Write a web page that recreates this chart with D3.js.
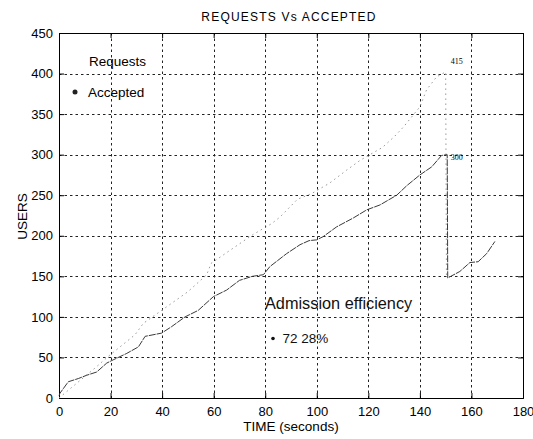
<!DOCTYPE html>
<html>
<head>
<meta charset="utf-8">
<script src="https://cdn.jsdelivr.net/npm/d3@7"></script>
<style>
    body { margin: 0; background: #fff; }
    svg { display: block; font-family: "Liberation Sans", Arial, sans-serif; }
</style>
</head>
<body>
<div id="chart"></div>
<script>
// values
const xTicks = [0, 20, 40, 60, 80, 100, 120, 140, 160, 180];
const yTicks = [0, 50, 100, 150, 200, 250, 300, 350, 400, 450];

const requestTime = [0, 14, 19, 29.5, 32.7, 50, 57.3, 59, 75, 82.5, 85.7, 92.5, 98, 105, 111.6, 116.8, 125.5, 130, 133.6, 140, 142.6, 146.5, 150, 150.3];
const requestUsers = [0, 37, 51, 78, 92, 131, 152, 166, 201, 215, 223, 245, 252, 265, 281, 293, 309, 322, 334, 359, 380, 396, 402, 148];

const acceptedTime = [0, 0.4, 3.6, 7.5, 10.7, 14.6, 18.5, 21, 26.3, 30.8, 33.4, 39.8, 43.7, 48.9, 54, 59.9, 65, 70, 75, 79.3, 81.8, 88.3, 93.5, 97, 100, 102.5, 107.7, 114.2, 119.4, 124.5, 131, 135, 140, 144.6, 148.4, 150.6, 150.8, 155.5, 159.4, 162.6, 165.9, 169.1];
const acceptedUsers = [3, 6, 20, 24, 28, 32, 43, 47, 55, 63, 76, 80, 88, 100, 108, 125, 133, 145, 150, 152, 162, 178, 189, 194, 195, 199, 211, 222, 232, 238, 250, 262, 275, 285, 299, 300, 148, 156, 167, 168, 178, 193];

const peakLabels = [
    { t: 150, v: 412, text: "415" },
    { t: 150, v: 293, text: "300" }
];

const W = 533, H = 439;
const margin = { top: 33, right: 10, bottom: 41, left: 59 };

const svg = d3.select("#chart").append("svg")
    .attr("width", W)
    .attr("height", H);

const x = d3.scaleLinear().domain([0, 180]).range([margin.left, W - margin.right]);
const y = d3.scaleLinear().domain([0, 450]).range([H - margin.bottom, margin.top]);

// grid
const grid = svg.append("g").attr("stroke", "#222").attr("stroke-width", 1).attr("stroke-dasharray", "2.5,3");
grid.selectAll(".gx").data(xTicks.slice(1, -1)).enter().append("line")
    .attr("x1", d => Math.round(x(d)) + 0.5).attr("x2", d => Math.round(x(d)) + 0.5)
    .attr("y1", y(450)).attr("y2", y(0));
grid.selectAll(".gy").data(yTicks.slice(1, -1)).enter().append("line")
    .attr("y1", d => Math.round(y(d)) + 0.5).attr("y2", d => Math.round(y(d)) + 0.5)
    .attr("x1", x(0)).attr("x2", x(180));

// axes (inward ticks, matlab style)
const xAxis = svg.append("g")
    .attr("transform", `translate(0,${y(0)})`)
    .call(d3.axisBottom(x).tickValues(xTicks).tickSize(-5).tickPadding(11).tickFormat(d3.format("d")));
const xAxisTop = svg.append("g")
    .attr("transform", `translate(0,${y(450)})`)
    .call(d3.axisTop(x).tickValues(xTicks).tickSize(-5).tickFormat(""));
const yAxis = svg.append("g")
    .attr("transform", `translate(${x(0)},0)`)
    .call(d3.axisLeft(y).tickValues(yTicks).tickSize(-5).tickPadding(11).tickFormat(d3.format("d")));
const yAxisRight = svg.append("g")
    .attr("transform", `translate(${x(180)},0)`)
    .call(d3.axisRight(y).tickValues(yTicks).tickSize(-5).tickFormat(""));

[xAxis, xAxisTop, yAxis, yAxisRight].forEach(g => {
    g.selectAll("path, line").attr("stroke", "#000");
    g.selectAll("text").attr("fill", "#000").attr("font-size", 13)
        .attr("font-family", "'Liberation Sans', Arial, sans-serif");
});
yAxis.selectAll("text").attr("x", -6);
xAxis.selectAll("text").attr("y", 9);

// requests (light dotted)
const line = d3.line().x(d => x(d[0])).y(d => y(d[1]));
svg.append("path")
    .datum(requestTime.map((t, i) => [t, requestUsers[i]]))
    .attr("d", line)
    .attr("fill", "none")
    .attr("stroke", "#999")
    .attr("stroke-width", 1)
    .attr("stroke-dasharray", "1.5,3.5");

// accepted (dark)
svg.append("path")
    .datum(acceptedTime.map((t, i) => [t, acceptedUsers[i]]))
    .attr("d", line)
    .attr("fill", "none")
    .attr("stroke", "#3a3a3a")
    .attr("stroke-width", 1)
    .attr("stroke-dasharray", "7,1");

// peak labels
svg.selectAll(".peak").data(peakLabels).enter().append("text")
    .attr("x", d => x(d.t) + 5)
    .attr("y", d => y(d.v))
    .attr("font-size", 8)
    .attr("fill", "#000")
    .attr("font-family", "'Liberation Serif', serif")
    .text(d => d.text);

// title + axis labels
svg.append("text")
    .attr("x", 289).attr("y", 20.5)
    .attr("text-anchor", "middle")
    .attr("font-size", 12)
    .attr("letter-spacing", 1.2)
    .text("REQUESTS Vs ACCEPTED");

svg.append("text")
    .attr("x", 291).attr("y", 431)
    .attr("text-anchor", "middle")
    .attr("font-size", 13.5)
    .text("TIME (seconds)");

svg.append("text")
    .attr("transform", "translate(26.5,216.5) rotate(-90)")
    .attr("text-anchor", "middle")
    .attr("font-size", 13.5)
    .text("USERS");

// legend
svg.append("text").attr("x", 89).attr("y", 65.5).attr("font-size", 13.5).text("Requests");
svg.append("circle").attr("cx", 75).attr("cy", 92).attr("r", 2.5).attr("fill", "#222");
svg.append("text").attr("x", 88).attr("y", 96.5).attr("font-size", 13.5).text("Accepted");

// annotation
svg.append("text").attr("x", 265).attr("y", 309).attr("font-size", 16.3).attr("fill", "#111")
    .text("Admission efficiency");
svg.append("circle").attr("cx", 273).attr("cy", 338.5).attr("r", 1.8).attr("fill", "#111");
svg.append("text").attr("x", 282.5).attr("y", 343.3).attr("font-size", 13.5).attr("fill", "#111")
    .text("72 28%");
</script>
</body>
</html>
